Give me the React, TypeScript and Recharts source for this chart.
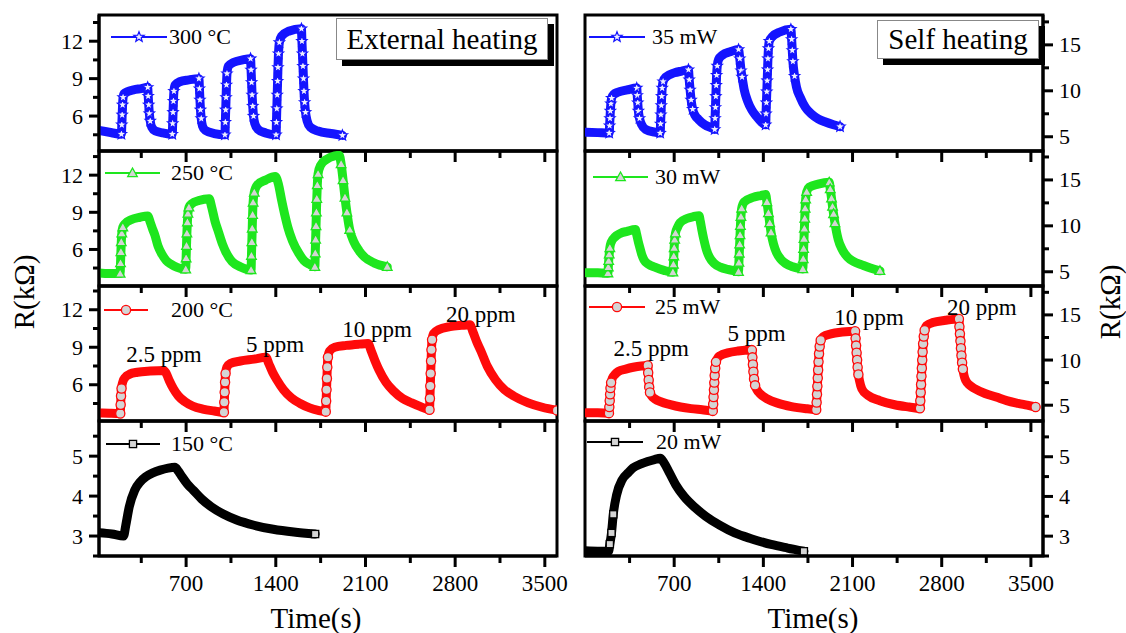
import { LineChart, Line, XAxis, YAxis, ReferenceArea, ReferenceDot } from "recharts";

const FONT = "Liberation Serif, Times New Roman, serif";

// [time (s), R (kΩ)]
const ext300 = [
  [20, 4.85], [100, 4.7], [195, 4.55],
  [198, 5.3], [201, 6.1], [204, 6.9], [208, 7.5], [215, 7.8], [240, 7.95], [290, 8.1], [350, 8.2], [400, 8.3],
  [404, 7.6], [408, 6.9], [413, 6.2], [420, 5.6], [432, 5.1], [460, 4.8], [520, 4.65], [592, 4.55],
  [595, 5.4], [598, 6.3], [601, 7.2], [605, 8.0], [615, 8.5], [650, 8.75], [720, 8.9], [800, 9.0],
  [804, 8.2], [808, 7.3], [812, 6.5], [818, 5.8], [828, 5.2], [850, 4.85], [920, 4.6], [1003, 4.5],
  [1006, 5.5], [1009, 6.5], [1012, 7.5], [1015, 8.5], [1019, 9.4], [1030, 10.0], [1070, 10.3], [1140, 10.5], [1203, 10.6],
  [1207, 9.7], [1211, 8.7], [1215, 7.7], [1220, 6.8], [1226, 6.0], [1236, 5.4], [1260, 4.95], [1320, 4.65], [1402, 4.5],
  [1405, 5.5], [1408, 6.6], [1411, 7.7], [1414, 8.8], [1417, 9.9], [1421, 11.0], [1428, 11.9], [1445, 12.4], [1500, 12.8], [1600, 13.0],
  [1604, 12.0], [1608, 11.0], [1612, 10.0], [1616, 9.0], [1620, 8.0], [1625, 7.1], [1632, 6.3], [1645, 5.6], [1670, 5.1], [1730, 4.8], [1830, 4.6], [1920, 4.45],
];

const ext250 = [
  [20, 4.1], [100, 4.05], [185, 4.05],
  [188, 4.9], [191, 5.8], [194, 6.6], [198, 7.3], [206, 7.8], [225, 8.1], [270, 8.4], [340, 8.6], [400, 8.7],
  [420, 8.2], [440, 7.6], [455, 7.2], [480, 6.3], [512, 5.6], [545, 5.1], [583, 4.8], [630, 4.55], [697, 4.4],
  [700, 5.3], [703, 6.3], [706, 7.3], [710, 8.2], [714, 8.9], [722, 9.4], [745, 9.7], [800, 9.95], [880, 10.1],
  [900, 9.4], [925, 8.3], [953, 7.4], [985, 6.4], [1010, 5.8], [1060, 5.0], [1124, 4.6], [1207, 4.35],
  [1210, 5.5], [1213, 6.6], [1216, 7.7], [1219, 8.8], [1223, 9.8], [1232, 10.6], [1255, 11.2], [1320, 11.6], [1395, 11.9],
  [1420, 11.3], [1445, 10.0], [1470, 8.8], [1494, 7.8], [1530, 6.7], [1579, 5.7], [1620, 5.1], [1664, 4.8], [1705, 4.6],
  [1708, 5.7], [1711, 6.8], [1714, 7.9], [1717, 9.0], [1720, 10.1], [1724, 11.2], [1730, 12.1], [1750, 12.8], [1800, 13.3], [1860, 13.55], [1895, 13.6],
  [1910, 12.9], [1925, 11.6], [1940, 10.2], [1955, 9.0], [1977, 7.6], [2010, 6.6], [2050, 5.9], [2091, 5.4], [2170, 4.9], [2270, 4.6],
];

const ext200 = [
  [20, 3.75], [100, 3.72], [186, 3.7],
  [189, 4.4], [192, 5.1], [196, 5.7], [205, 6.2], [225, 6.6], [260, 6.85], [320, 7.0], [420, 7.1], [527, 7.15],
  [545, 6.9], [570, 6.3], [600, 5.7], [640, 5.1], [690, 4.65], [750, 4.3], [830, 4.05], [920, 3.9], [995, 3.8],
  [998, 4.6], [1001, 5.4], [1004, 6.2], [1008, 6.9], [1018, 7.4], [1045, 7.7], [1124, 7.9], [1230, 8.05], [1323, 8.2],
  [1345, 7.7], [1375, 7.0], [1408, 6.4], [1460, 5.6], [1522, 4.95], [1590, 4.5], [1664, 4.15], [1730, 3.95], [1790, 3.85],
  [1793, 4.7], [1796, 5.6], [1799, 6.5], [1802, 7.4], [1807, 8.2], [1820, 8.7], [1860, 9.0], [1950, 9.15], [2050, 9.25], [2120, 9.3],
  [2145, 8.7], [2175, 7.9], [2205, 7.2], [2260, 6.2], [2319, 5.5], [2390, 4.9], [2461, 4.55], [2530, 4.25], [2600, 4.0],
  [2603, 4.9], [2606, 5.9], [2609, 6.9], [2612, 7.9], [2615, 8.8], [2620, 9.6], [2632, 10.1], [2670, 10.4], [2760, 10.65], [2850, 10.75], [2915, 10.8],
  [2940, 10.2], [2970, 9.4], [3001, 8.7], [3050, 7.5], [3115, 6.4], [3185, 5.6], [3257, 5.1], [3370, 4.55], [3480, 4.2], [3595, 3.95],
];

const ext150 = [
  [20, 3.08], [120, 3.05], [212, 3.0], [228, 3.25], [256, 3.73], [299, 4.15], [340, 4.35], [384, 4.48], [440, 4.58],
  [498, 4.65], [560, 4.7], [612, 4.72], [640, 4.62], [669, 4.48], [710, 4.3], [755, 4.15], [820, 3.93], [897, 3.73],
  [990, 3.55], [1095, 3.4], [1230, 3.27], [1380, 3.17], [1540, 3.1], [1707, 3.05],
];

const self35 = [
  [8, 5.5], [100, 5.45], [190, 5.4],
  [193, 6.2], [196, 7.0], [199, 7.8], [203, 8.6], [209, 9.2], [225, 9.6], [260, 9.85], [330, 10.1], [406, 10.3],
  [410, 9.5], [414, 8.7], [419, 7.8], [428, 7.0], [445, 6.3], [475, 5.8], [548, 5.5], [590, 5.4],
  [593, 6.4], [596, 7.4], [599, 8.4], [602, 9.4], [606, 10.3], [613, 11.0], [635, 11.5], [700, 11.95], [760, 12.15], [812, 12.3],
  [818, 11.2], [825, 10.1], [833, 9.0], [845, 8.0], [865, 7.3], [890, 6.9], [940, 6.3], [1005, 5.9], [1018, 5.8],
  [1021, 7.0], [1024, 8.2], [1027, 9.4], [1030, 10.6], [1033, 11.7], [1038, 12.7], [1048, 13.4], [1080, 13.9], [1140, 14.25], [1205, 14.5],
  [1215, 13.5], [1225, 12.2], [1233, 11.5], [1250, 10.1], [1276, 8.9], [1310, 7.9], [1347, 7.2], [1385, 6.6], [1418, 6.3],
  [1421, 7.5], [1424, 8.7], [1427, 9.9], [1430, 11.1], [1433, 12.3], [1436, 13.5], [1440, 14.6], [1447, 15.4], [1470, 15.9], [1530, 16.4], [1616, 16.7],
  [1622, 15.6], [1627, 14.4], [1632, 13.2], [1645, 11.6], [1660, 10.4], [1689, 9.3], [1730, 8.2], [1775, 7.5], [1830, 6.95], [1888, 6.6], [1950, 6.3], [2002, 6.1],
];

const self30 = [
  [8, 4.9], [100, 4.88], [180, 4.85],
  [183, 5.5], [186, 6.2], [190, 6.9], [195, 7.6], [205, 8.2], [236, 8.8], [280, 9.2], [330, 9.4], [395, 9.6],
  [405, 9.1], [418, 8.3], [429, 7.7], [445, 6.9], [463, 6.3], [500, 5.8], [548, 5.5], [620, 5.15], [690, 4.95],
  [694, 5.8], [697, 6.7], [700, 7.6], [704, 8.5], [710, 9.2], [725, 9.8], [747, 10.35], [800, 10.8], [850, 11.0], [895, 11.1],
  [905, 10.5], [918, 9.5], [933, 8.5], [953, 7.4], [976, 6.6], [1015, 5.9], [1062, 5.5], [1120, 5.25], [1175, 5.1], [1205, 5.0],
  [1208, 6.0], [1211, 7.0], [1214, 8.0], [1217, 9.0], [1220, 10.0], [1224, 11.0], [1230, 11.9], [1250, 12.6], [1319, 13.1], [1380, 13.3], [1418, 13.4],
  [1428, 12.6], [1440, 11.4], [1450, 10.3], [1460, 9.3], [1480, 8.0], [1503, 7.1], [1535, 6.4], [1575, 5.9], [1630, 5.55], [1689, 5.35], [1710, 5.3],
  [1713, 6.4], [1716, 7.5], [1719, 8.6], [1722, 9.7], [1725, 10.8], [1728, 11.9], [1732, 12.9], [1740, 13.7], [1760, 14.2], [1830, 14.55], [1917, 14.75],
  [1925, 14.0], [1935, 13.0], [1943, 12.1], [1951, 11.3], [1962, 10.3], [1975, 9.3], [1988, 8.5], [2020, 7.4], [2060, 6.6], [2110, 6.1], [2173, 5.75], [2240, 5.4], [2315, 5.1],
];

const self25 = [
  [8, 4.15], [100, 4.15], [188, 4.12],
  [191, 4.8], [194, 5.5], [197, 6.2], [200, 6.9], [205, 7.5], [215, 8.0], [235, 8.4], [263, 8.75], [320, 9.0], [378, 9.2], [492, 9.4],
  [496, 8.6], [500, 7.8], [504, 7.0], [510, 6.4], [525, 6.0], [548, 5.7], [600, 5.35], [662, 5.1], [750, 4.8], [833, 4.62], [920, 4.5], [1003, 4.37],
  [1006, 5.1], [1009, 5.9], [1012, 6.7], [1015, 7.5], [1018, 8.3], [1022, 9.1], [1028, 9.8], [1045, 10.3], [1062, 10.5], [1120, 10.8], [1200, 11.0], [1310, 11.1],
  [1314, 10.3], [1318, 9.5], [1322, 8.7], [1327, 7.9], [1335, 7.2], [1350, 6.7], [1372, 6.3], [1430, 5.7], [1518, 5.2], [1620, 4.85], [1746, 4.6], [1815, 4.5],
  [1818, 5.3], [1821, 6.2], [1824, 7.1], [1827, 8.0], [1830, 8.9], [1833, 9.8], [1837, 10.7], [1842, 11.5], [1850, 12.2], [1870, 12.6], [1930, 12.9], [2020, 13.1], [2120, 13.2],
  [2124, 12.4], [2128, 11.6], [2132, 10.8], [2136, 10.0], [2140, 9.2], [2146, 8.4], [2155, 7.7], [2173, 6.8], [2220, 6.1], [2315, 5.5], [2430, 5.05], [2544, 4.8], [2629, 4.65],
  [2632, 5.5], [2635, 6.4], [2638, 7.3], [2641, 8.2], [2644, 9.1], [2647, 10.0], [2650, 10.9], [2654, 11.8], [2659, 12.6], [2666, 13.3], [2680, 13.8], [2730, 14.15], [2830, 14.4], [2935, 14.55],
  [2939, 13.7], [2943, 12.9], [2947, 12.1], [2951, 11.3], [2955, 10.5], [2960, 9.7], [2966, 9.0], [2975, 8.3], [2990, 7.7], [3020, 7.2], [3057, 6.85], [3140, 6.3], [3228, 5.9], [3310, 5.5], [3399, 5.2], [3470, 5.0], [3537, 4.8],
];

const self20 = [
  [5, 2.63], [100, 2.62], [185, 2.62], [195, 2.8], [208, 3.08], [222, 3.55], [249, 4.05], [292, 4.42], [340, 4.6],
  [378, 4.72], [440, 4.82], [492, 4.88], [545, 4.93], [591, 4.96], [620, 4.85], [662, 4.6], [715, 4.28], [777, 4.0],
  [860, 3.73], [948, 3.5], [1060, 3.27], [1175, 3.08], [1310, 2.93], [1460, 2.79], [1590, 2.7], [1718, 2.62],
];

const xTicks = [350, 700, 1050, 1400, 1750, 2100, 2450, 2800, 3150, 3500];
const xLabels = [700, 1400, 2100, 2800, 3500];

const extTicks = [4.5, 6, 7.5, 9, 10.5, 12, 13.5];
const extLabels = [6, 9, 12];
const selfTicks = [5, 7.5, 10, 12.5, 15, 17.5];
const selfLabels = [5, 10, 15];
const lowTicks = [2.5, 3, 3.5, 4, 4.5, 5, 5.5];
const lowLabels = [3, 4, 5];

const ppmLabels = ["2.5 ppm", "5 ppm", "10 ppm", "20 ppm"];
const extPpmAt = [[527, 8.5], [1394, 9.3], [2190, 10.5], [3001, 11.7]];
const selfPpmAt = [[520, 11.3], [1347, 12.97], [2230, 14.8], [3114, 15.9]];

// layout (page px)
const BOUNDS = [15, 151, 286, 421, 556];
const PLOT_W = 458;
const AXIS_W = 60;
const M = 6;
const RIGHT_PAD = 24;
const GRAY = "#d4d4d4";

type Shape = "star" | "triangle" | "circle" | "square";

type Panel = {
  data: number[][];
  name: string;
  color: string;
  shape: Shape;
  yDomain: [number, number];
  yTicks: number[];
  yLabels: number[];
  legend: { x: number; y: number; len: number; tx: number };
  ppm?: number[][];
};

const leftPanels: Panel[] = [
  { data: ext300, name: "300 °C", color: "#1414ff", shape: "star", yDomain: [3.2, 14.1], yTicks: extTicks, yLabels: extLabels, legend: { x: 111, y: 37, len: 56, tx: 169 } },
  { data: ext250, name: "250 °C", color: "#1ee61e", shape: "triangle", yDomain: [3.05, 13.95], yTicks: extTicks, yLabels: extLabels, legend: { x: 105, y: 173, len: 55, tx: 171 } },
  { data: ext200, name: "200 °C", color: "#ff0a0a", shape: "circle", yDomain: [3.1, 13.9], yTicks: extTicks, yLabels: extLabels, legend: { x: 104, y: 310, len: 44, tx: 171 }, ppm: extPpmAt },
  { data: ext150, name: "150 °C", color: "#000000", shape: "square", yDomain: [2.5, 5.88], yTicks: lowTicks, yLabels: lowLabels, legend: { x: 106, y: 444, len: 54, tx: 171 } },
];

const rightPanels: Panel[] = [
  { data: self35, name: "35 mW", color: "#1414ff", shape: "star", yDomain: [3.45, 18.25], yTicks: selfTicks, yLabels: selfLabels, legend: { x: 589, y: 37, len: 56, tx: 652 } },
  { data: self30, name: "30 mW", color: "#1ee61e", shape: "triangle", yDomain: [3.45, 18.15], yTicks: selfTicks, yLabels: selfLabels, legend: { x: 593, y: 177, len: 55, tx: 655 } },
  { data: self25, name: "25 mW", color: "#ff0a0a", shape: "circle", yDomain: [3.25, 18.2], yTicks: selfTicks, yLabels: selfLabels, legend: { x: 589, y: 307, len: 56, tx: 655 }, ppm: selfPpmAt },
  { data: self20, name: "20 mW", color: "#000000", shape: "square", yDomain: [2.5, 5.9], yTicks: lowTicks, yLabels: lowLabels, legend: { x: 587, y: 442, len: 56, tx: 656 } },
];

const Marker = ({ shape, cx, cy, color }: { shape: Shape; cx: number; cy: number; color: string }) => {
  const common = { fill: GRAY, stroke: color, strokeWidth: 1.3 };
  if (shape === "circle") return <circle cx={cx} cy={cy} r={4.6} {...common} />;
  if (shape === "square") return <rect x={cx - 3.6} y={cy - 3.6} width={7.2} height={7.2} {...common} />;
  if (shape === "triangle") {
    return <polygon points={`${cx},${cy - 5} ${cx + 4.8},${cy + 3.6} ${cx - 4.8},${cy + 3.6}`} {...common} />;
  }
  const pts: string[] = [];
  for (let k = 0; k < 10; k++) {
    const a = -Math.PI / 2 + (k * Math.PI) / 5;
    const r = k % 2 === 0 ? 5.4 : 2.3;
    pts.push(`${cx + r * Math.cos(a)},${cy + r * Math.sin(a)}`);
  }
  return <polygon points={pts.join(" ")} fill="#eeeeff" stroke={color} strokeWidth={1.2} />;
};

// markers only where the curve is near-vertical (as in the original, where the points spread apart)
function steepFlags(data: number[][], xDom: number[], yDom: number[], h: number) {
  const kx = PLOT_W / (xDom[1] - xDom[0]);
  const ky = h / (yDom[1] - yDom[0]);
  return data.map((d, i) => {
    if (i === data.length - 1) return true;
    const check = (j: number) => {
      const q = data[j];
      if (!q) return false;
      const dx = Math.abs(q[0] - d[0]) * kx;
      const dy = Math.abs(q[1] - d[1]) * ky;
      return dy > 6 * dx && dy > 3;
    };
    return check(i - 1) || check(i + 1);
  });
}

const XTick = ({ x, y, payload, showLabels }: any) => {
  const major = xLabels.includes(payload.value);
  return (
    <g>
      <line x1={x} x2={x} y1={y} y2={y + (major ? 11 : 7)} stroke="#000" strokeWidth={3} />
      {showLabels && major && (
        <text x={x} y={y + 27} textAnchor="middle" dominantBaseline="central" fill="#000" style={{ fontFamily: FONT, fontSize: 23 }}>
          {payload.value}
        </text>
      )}
    </g>
  );
};

const YTick = ({ x, y, payload, labels, side }: any) => {
  const major = labels.includes(payload.value);
  const dir = side === "left" ? -1 : 1;
  const len = major ? 10 : 6;
  return (
    <g>
      <line x1={x} x2={x + dir * len} y1={y} y2={y} stroke="#000" strokeWidth={3} />
      {major && (
        <text
          x={x + dir * 16}
          y={y}
          textAnchor={side === "left" ? "end" : "start"}
          dominantBaseline="central"
          fill="#000"
          style={{ fontFamily: FONT, fontSize: 22 }}
        >
          {payload.value}
        </text>
      )}
    </g>
  );
};

const PanelChart = ({ p, side, row }: { p: Panel; side: "left" | "right"; row: number }) => {
  const isLeft = side === "left";
  const top = BOUNDS[row];
  const h = BOUNDS[row + 1] - top;
  const bottom = row === 3;
  const xAxisH = bottom ? 44 : 14;
  const xDomain = isLeft ? [20, 3595] : [0, 3595];
  const plotLeft = isLeft ? 99 : 585;
  const chartLeft = isLeft ? plotLeft - AXIS_W : plotLeft - M;
  const rows = p.data.map(([t, r]) => ({ t, r }));
  const steep = steepFlags(p.data, xDomain, p.yDomain, h);

  return (
    <div style={{ position: "absolute", left: chartLeft, top: top - M }}>
      <LineChart
        width={AXIS_W + PLOT_W + (isLeft ? RIGHT_PAD : M)}
        height={M + h + xAxisH}
        data={rows}
        margin={{ top: M, right: isLeft ? RIGHT_PAD : 0, left: isLeft ? 0 : M, bottom: 0 }}
      >
        <XAxis
          dataKey="t"
          type="number"
          domain={xDomain}
          ticks={xTicks}
          interval={0}
          allowDataOverflow
          height={xAxisH}
          tickSize={0}
          tickMargin={0}
          axisLine={{ stroke: "#000", strokeWidth: 3 }}
          tick={(props: any) => <XTick {...props} showLabels={bottom} />}
        />
        <YAxis
          type="number"
          orientation={side}
          domain={p.yDomain}
          ticks={p.yTicks}
          interval={0}
          allowDataOverflow
          width={AXIS_W}
          tickSize={0}
          tickMargin={0}
          axisLine={{ stroke: "#000", strokeWidth: 3 }}
          tick={(props: any) => <YTick {...props} labels={p.yLabels} side={side} />}
        />
        <ReferenceArea
          x1={xDomain[0]}
          x2={xDomain[1]}
          y1={p.yDomain[0]}
          y2={p.yDomain[1]}
          fill="none"
          fillOpacity={0}
          stroke="#000"
          strokeWidth={3}
          ifOverflow="visible"
        />
        <Line
          dataKey="r"
          name={p.name}
          type="monotone"
          stroke={p.color}
          strokeWidth={9}
          strokeLinejoin="round"
          strokeLinecap="round"
          isAnimationActive={false}
          activeDot={false}
          dot={(props: any) => {
            const { cx, cy, index } = props;
            if (!steep[index] || cx == null) return <g key={`n${index}`} />;
            return <Marker key={`m${index}`} shape={p.shape} cx={cx} cy={cy} color={p.color} />;
          }}
        />
        {p.ppm &&
          p.ppm.map(([t, v], i) => (
            <ReferenceDot
              key={ppmLabels[i]}
              x={t}
              y={v}
              r={0}
              fill="none"
              stroke="none"
              label={{ value: ppmLabels[i], position: "center", fontSize: 23, fontFamily: FONT, fill: "#000" }}
            />
          ))}
      </LineChart>
    </div>
  );
};

const LegendKey = ({ p }: { p: Panel }) => (
  <>
    <svg style={{ position: "absolute", left: p.legend.x, top: p.legend.y - 8 }} width={p.legend.len} height={16}>
      <line x1={0} x2={p.legend.len} y1={8} y2={8} stroke={p.color} strokeWidth={2.2} />
      <Marker shape={p.shape} cx={p.legend.len / 2} cy={8} color={p.color} />
    </svg>
    <div
      style={{
        position: "absolute",
        left: p.legend.tx,
        top: p.legend.y - 13,
        fontSize: 22,
        lineHeight: "26px",
        fontFamily: FONT,
        whiteSpace: "nowrap",
      }}
    >
      {p.name}
    </div>
  </>
);

const TitleBox = ({ text, left, top, width, height }: { text: string; left: number; top: number; width: number; height: number }) => (
  <div
    style={{
      position: "absolute",
      left,
      top,
      width,
      height,
      background: "#fff",
      border: "1px solid #888",
      boxShadow: "6px 6px 0 #000",
      fontFamily: FONT,
      fontSize: 29,
      lineHeight: `${height}px`,
      textAlign: "center",
      whiteSpace: "nowrap",
    }}
  >
    {text}
  </div>
);

const axisTitle = { position: "absolute" as const, fontFamily: FONT, fontSize: 29, whiteSpace: "nowrap" as const, lineHeight: "32px" };

export default function App() {
  return (
    <div style={{ position: "absolute", left: 0, top: 0, width: 1126, height: 633, background: "#fff", overflow: "hidden" }}>
      {leftPanels.map((p, i) => (
        <PanelChart key={p.name} p={p} side="left" row={i} />
      ))}
      {rightPanels.map((p, i) => (
        <PanelChart key={p.name} p={p} side="right" row={i} />
      ))}
      {[...leftPanels, ...rightPanels].map((p) => (
        <LegendKey key={`lg-${p.name}`} p={p} />
      ))}
      <TitleBox text="External heating" left={336} top={18} width={210} height={40} />
      <TitleBox text="Self heating" left={877} top={20} width={160} height={37} />
      <div style={{ ...axisTitle, left: 316, top: 602, transform: "translateX(-50%)" }}>Time(s)</div>
      <div style={{ ...axisTitle, left: 813, top: 602, transform: "translateX(-50%)" }}>Time(s)</div>
      <div style={{ ...axisTitle, left: 24, top: 292, transform: "translate(-50%, -50%) rotate(-90deg)" }}>R(kΩ)</div>
      <div style={{ ...axisTitle, left: 1110, top: 302, transform: "translate(-50%, -50%) rotate(-90deg)" }}>R(kΩ)</div>
    </div>
  );
}
